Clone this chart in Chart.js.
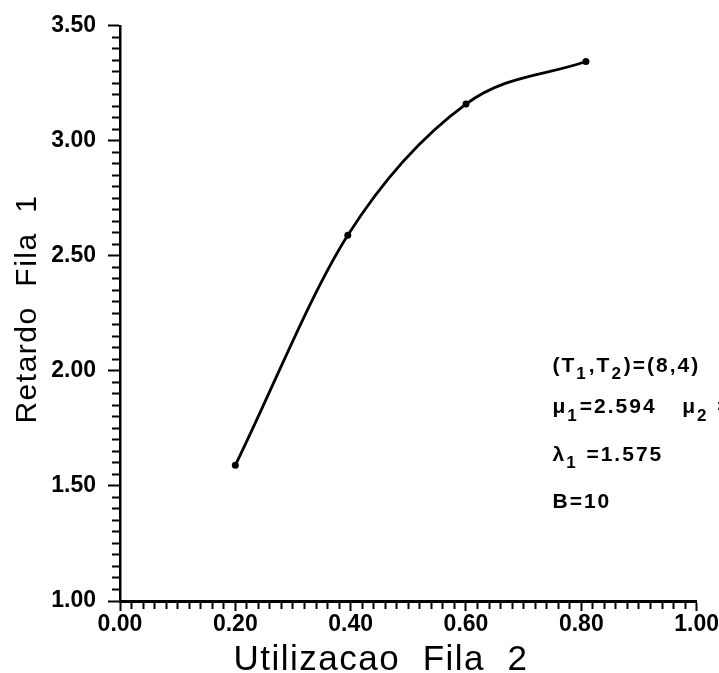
<!DOCTYPE html>
<html>
<head>
<meta charset="utf-8">
<title>Retardo Fila 1</title>
<script src="https://cdn.jsdelivr.net/npm/chart.js@4.4.1/dist/chart.umd.min.js"></script>
<style>
  html, body { margin: 0; padding: 0; background: #ffffff; }
  #wrap { width: 719px; height: 673px; position: relative; }
</style>
</head>
<body>
<div id="wrap"><canvas id="chart"></canvas></div>
<script>
// Queue 2 utilisation vs. queue 1 delay
const utilizacaoFila2 = [0.20, 0.395, 0.60, 0.808];
const retardoFila1 = [1.59, 2.59, 3.16, 3.345];

// Axis ranges and tick steps
const xRange = [0, 1];
const xMinorStep = 0.02;
const xMajorStep = 0.20;
const yRange = [1, 3.5];
const yMinorStep = 0.05;
const yMajorStep = 0.50;

const xTitle = 'Utilizacao  Fila  2';
const yTitle = 'Retardo  Fila  1';

// Parameter notes: plain strings, arrays are subscripts
const notes = [
  { x: 0.75, y: 1.996, parts: ['(T', ['1'], ',T', ['2'], ')=(8,4)'] },
  { x: 0.75, y: 1.815, parts: ['\u03bc', ['1'], '=2.594'] },
  { x: 0.975, y: 1.815, parts: ['\u03bc', ['2'], ' ='] },
  { x: 0.75, y: 1.608, parts: ['\u03bb', ['1'], ' =1.575'] },
  { x: 0.75, y: 1.405, parts: ['B=10'] }
];

const FONT = '"Liberation Sans", Arial, Helvetica, sans-serif';

function isMajor(value, major) {
  const r = Math.round(value * 1000);
  const m = Math.round(major * 1000);
  return r % m === 0;
}

function tickDash(major, minorLen, fullLen, reverse) {
  return (c) => {
    if (!c.tick) return [];
    if (isMajor(c.tick.value, major)) return [];
    return reverse ? [0, fullLen - minorLen, minorLen, 100] : [minorLen, 100];
  };
}

function drawRich(ctx, parts, x, y, size) {
  let cx = x;
  for (const p of parts) {
    if (Array.isArray(p)) {
      ctx.font = 'bold ' + Math.round(size * 0.8) + 'px ' + FONT;
      ctx.fillText(p[0], cx, y + size * 0.35);
      cx += ctx.measureText(p[0]).width + 1;
    } else {
      ctx.font = 'bold ' + size + 'px ' + FONT;
      ctx.fillText(p, cx, y);
      cx += ctx.measureText(p).width;
    }
  }
}

const textPlugin = {
  id: 'axisTitlesAndNotes',
  afterDraw(chart) {
    const ctx = chart.ctx;
    const xs = chart.scales.x;
    const ys = chart.scales.y;
    ctx.save();
    ctx.fillStyle = '#000000';
    ctx.letterSpacing = '1.5px';

    // x axis title
    ctx.font = '35px ' + FONT;
    ctx.textAlign = 'center';
    ctx.textBaseline = 'alphabetic';
    ctx.fillText(xTitle, 381, 670);

    // y axis title
    ctx.save();
    ctx.translate(36, 309);
    ctx.rotate(-Math.PI / 2);
    ctx.font = '30px ' + FONT;
    ctx.fillText(yTitle, 0, 0);
    ctx.restore();

    // parameter notes
    ctx.letterSpacing = '2px';
    ctx.textAlign = 'left';
    for (const n of notes) {
      drawRich(ctx, n.parts, xs.getPixelForValue(n.x), ys.getPixelForValue(n.y), 21);
    }
    ctx.restore();
  }
};

new Chart(document.getElementById('chart'), {
  type: 'scatter',
  data: {
    datasets: [{
      data: utilizacaoFila2.map((u, i) => ({ x: u, y: retardoFila1[i] })),
      showLine: true,
      borderColor: '#000000',
      backgroundColor: '#000000',
      borderWidth: 2.8,
      pointRadius: 3.5,
      pointHoverRadius: 3.5,
      pointBackgroundColor: '#000000',
      pointBorderWidth: 0,
      cubicInterpolationMode: 'monotone'
    }]
  },
  options: {
    responsive: true,
    maintainAspectRatio: false,
    animation: false,
    events: [],
    layout: { padding: { top: 21, right: 21, left: 0, bottom: 0 } },
    plugins: {
      legend: { display: false },
      tooltip: { enabled: false }
    },
    scales: {
      x: {
        type: 'linear',
        position: 'bottom',
        min: xRange[0],
        max: xRange[1],
        afterFit(scale) { scale.height = 72; },
        border: { display: true, color: '#000000', width: 3 },
        grid: {
          drawOnChartArea: false,
          drawTicks: true,
          tickLength: 10,
          tickWidth: 2,
          tickColor: '#000000',
          tickBorderDash: tickDash(xMajorStep, 6, 10, false)
        },
        ticks: {
          stepSize: xMinorStep,
          autoSkip: false,
          maxRotation: 0,
          padding: 0,
          color: '#000000',
          font: { family: FONT, size: 23, weight: 'bold' },
          callback: (v) => isMajor(v, xMajorStep) ? Number(v).toFixed(2) : ''
        }
      },
      y: {
        type: 'linear',
        position: 'left',
        min: yRange[0],
        max: yRange[1],
        afterFit(scale) { scale.width = 120; },
        border: { display: true, color: '#000000', width: 2.5 },
        grid: {
          drawOnChartArea: false,
          drawTicks: true,
          tickLength: 12,
          tickWidth: 2,
          tickColor: '#000000',
          tickBorderDash: tickDash(yMajorStep, 8, 12, true)
        },
        ticks: {
          stepSize: yMinorStep,
          autoSkip: false,
          padding: 12,
          color: '#000000',
          font: { family: FONT, size: 23, weight: 'bold' },
          callback: (v) => isMajor(v, yMajorStep) ? Number(v).toFixed(2) : ''
        }
      }
    }
  },
  plugins: [textPlugin]
});
</script>
</body>
</html>
